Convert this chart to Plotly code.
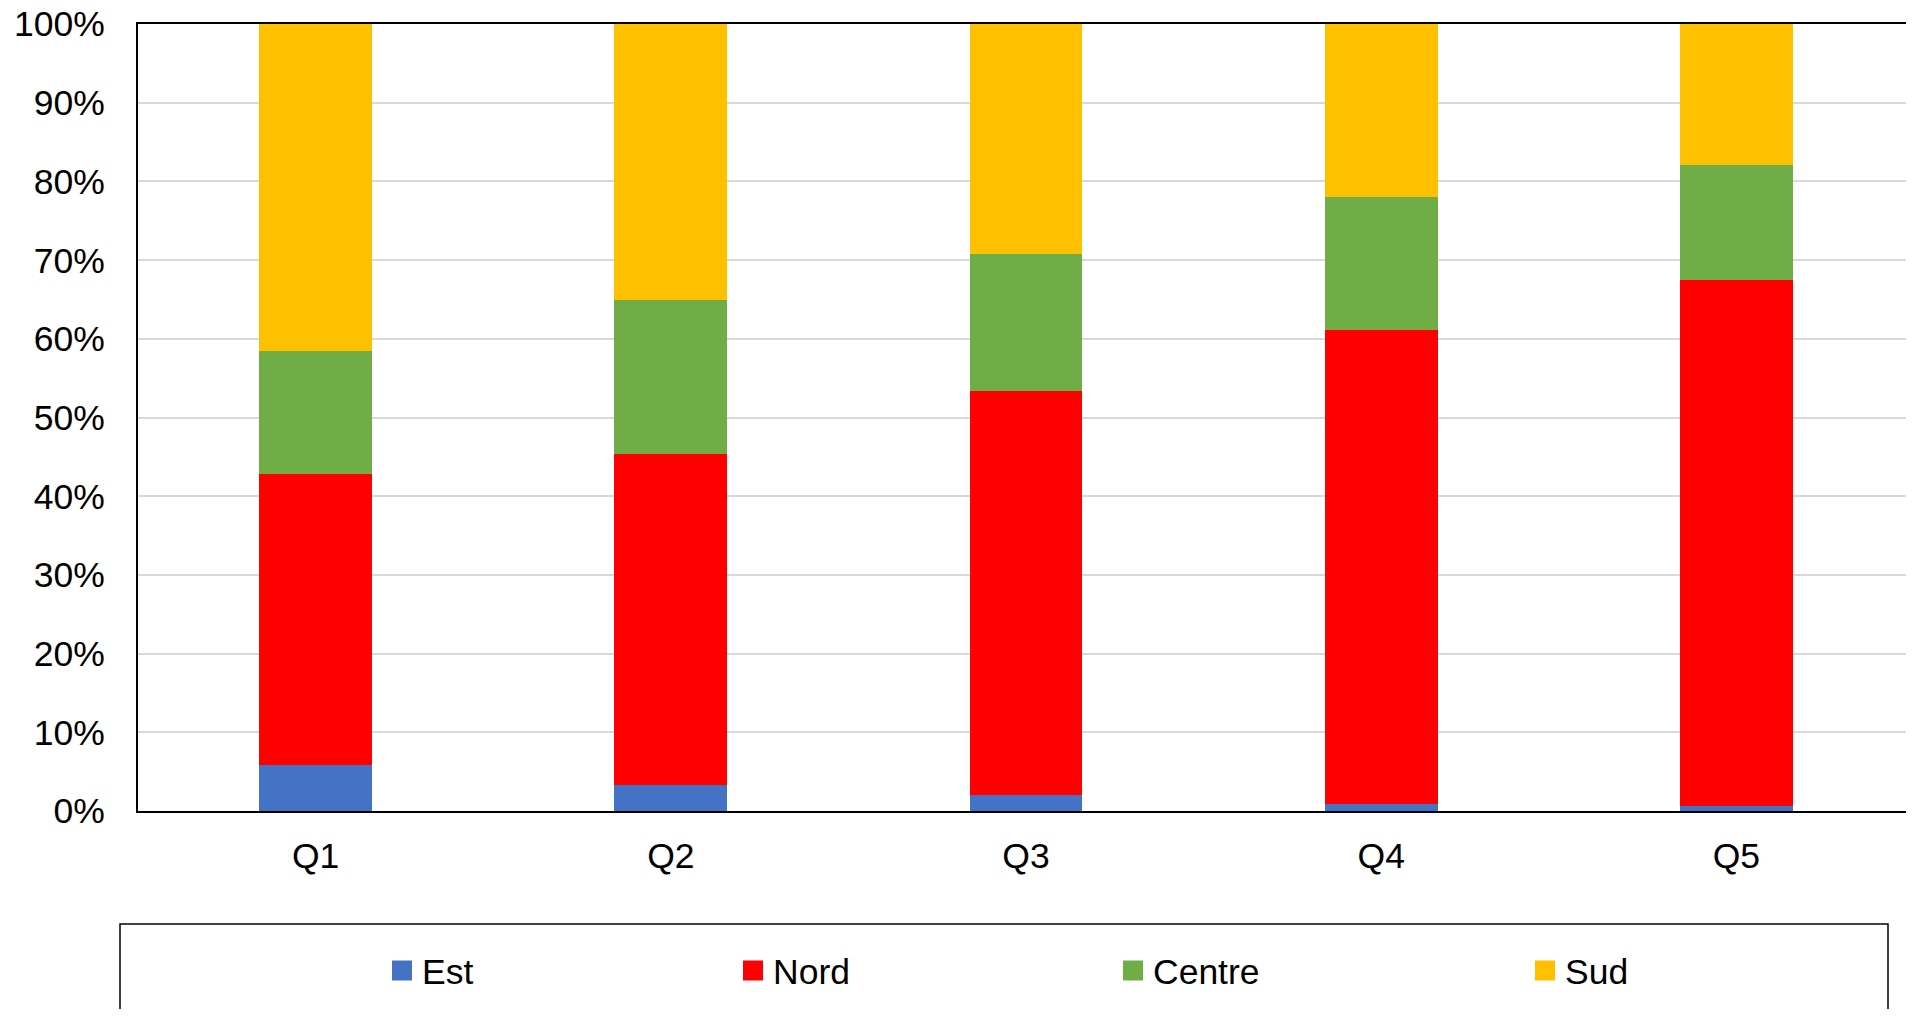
import plotly.graph_objects as go

categories = ["Q1", "Q2", "Q3", "Q4", "Q5"]
est = [5.8, 3.35, 2.0, 0.93, 0.64]
nord = [37.05, 41.95, 51.4, 60.2, 66.8]
centre = [15.55, 19.6, 17.4, 16.85, 14.7]
sud = [41.6, 35.1, 29.2, 22.02, 17.86]
series_names = ["Est", "Nord", "Centre", "Sud"]
series_colors = ["#4472C4", "#FF0000", "#70AD47", "#FFC000"]
y_ticks = [0, 10, 20, 30, 40, 50, 60, 70, 80, 90, 100]
y_tick_labels = ["0%", "10%", "20%", "30%", "40%", "50%", "60%", "70%", "80%", "90%", "100%"]

# page has an 8px body margin; figure is sized so the page fits the 1914x1017 window
OFF = 8
W, H = 1914 - OFF, 1017 - 2 * OFF
PLOT_BOTTOM_PAGE = 811
ML, MR, MT = 138 - OFF, 0, 24 - OFF
MB = H - (PLOT_BOTTOM_PAGE - OFF)
FONT = dict(family="Liberation Sans, Arial, sans-serif", size=35.5, color="black")

fig = go.Figure()
values = [est, nord, centre, sud]
for name, vals, col in zip(series_names, values, series_colors):
    fig.add_trace(go.Bar(x=categories, y=vals, name=name, marker_color=col,
                         marker_line_width=0, showlegend=False, legendgroup=name))

# legend entries (one legend per item so spacing matches the reference)
legend_px = [382, 733, 1113, 1525]
legend_ids = ["legend", "legend2", "legend3", "legend4"]
for name, col, lid in zip(series_names, series_colors, legend_ids):
    fig.add_trace(go.Scatter(x=[None], y=[None], mode="markers", name=name,
                             marker=dict(symbol="square", size=16, color=col,
                                         line=dict(color=col, width=4)),
                             legend=lid, legendgroup=name, showlegend=True))

legend_y = 1 - (971 - OFF) / H
layout_legends = {}
for px, lid in zip(legend_px, legend_ids):
    layout_legends[lid] = dict(x=(px - OFF) / W, y=legend_y, xref="container", yref="container",
                               xanchor="left", yanchor="middle", font=FONT,
                               bgcolor="rgba(0,0,0,0)", borderwidth=0,
                               itemwidth=30)

plot_w = W - ML - MR
plot_h = H - MT - MB
plot_bottom = H - MB
fig.add_shape(type="rect", xref="paper", yref="paper",
              x0=(120 - OFF - ML) / plot_w, x1=(1888 - OFF - ML) / plot_w,
              y0=(plot_bottom - (924 - OFF)) / plot_h, y1=(plot_bottom - (1040 - OFF)) / plot_h,
              line=dict(color="black", width=1.5), fillcolor="rgba(0,0,0,0)")

fig.update_layout(
    width=W, height=H,
    margin=dict(l=ML, r=MR, t=MT, b=MB, pad=0, autoexpand=False),
    barmode="stack", bargap=0.682,
    plot_bgcolor="white", paper_bgcolor="white",
    font=FONT,
    **layout_legends,
)
fig.update_xaxes(showline=True, linecolor="black", linewidth=2, mirror=True,
                 ticks="", showgrid=False, ticklabelstandoff=12, tickfont=FONT,
                 ticklabeloverflow="allow")
fig.update_yaxes(range=[0, 100], tickmode="array", tickvals=y_ticks, ticktext=y_tick_labels,
                 showline=True, linecolor="black", linewidth=2, mirror=True,
                 showgrid=True, gridcolor="#D9D9D9", gridwidth=1.5, zeroline=False,
                 ticks="", ticklabelstandoff=24, tickfont=FONT, ticklabeloverflow="allow")

fig.write_html("out.html")
